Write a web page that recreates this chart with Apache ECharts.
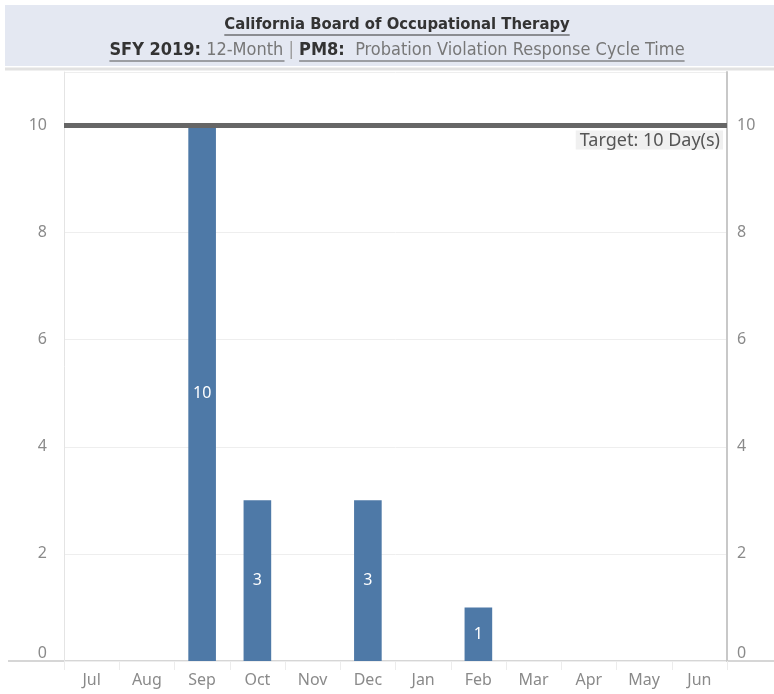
<!DOCTYPE html>
<html>
<head>
<meta charset="utf-8">
<script src="https://cdn.jsdelivr.net/npm/echarts@6/dist/echarts.min.js"></script>
<style>
  html, body { margin: 0; padding: 0; background: #fff; }
  #main { width: 774px; height: 694px; }
</style>
</head>
<body>
<div id="main"></div>
<script>
// data
var months = ['Jul', 'Aug', 'Sep', 'Oct', 'Nov', 'Dec', 'Jan', 'Feb', 'Mar', 'Apr', 'May', 'Jun'];
var cycleDays = [null, null, 10, 3, null, 3, null, 1, null, null, null, null];
var targetDays = 10;
var yMax = 11;
var yStep = 2;

var titleText = 'California Board of Occupational Therapy';
var subParts = [
  ['b', 'SFY 2019:'], ['g', ' 12-Month '], ['s', '| '], ['b', 'PM8:'], ['g', '  Probation Violation Response Cycle Time']
];

var titleFont = '"Liberation Sans Narrow", "DejaVu Sans Condensed", sans-serif';
var axisFont = '"Noto Sans", sans-serif';
var centerX = 397;

// measure text so the underlines fit the words
var ctx = document.createElement('canvas').getContext('2d');
function textW(txt, weight, size) {
  ctx.font = weight + ' ' + size + 'px ' + titleFont;
  return ctx.measureText(txt).width;
}
var titleSize = 16.5, subSize = 18;
var titleW = textW(titleText, 'bold', titleSize);
var subWidths = subParts.map(function (p) { return textW(p[1], p[0] === 'b' ? 'bold' : 'normal', subSize); });
var subTotal = subWidths.reduce(function (a, b) { return a + b; }, 0);
var subX0 = centerX - subTotal / 2;
var u1End = subX0 + subWidths[0] + subWidths[1] - 4;
var u2Start = subX0 + subWidths[0] + subWidths[1] + subWidths[2];
var u2End = subX0 + subTotal;

var myChart = echarts.init(document.getElementById('main'));

function yLabel(v) { return v % yStep === 0 ? String(v) : ''; }

var option = {
  animation: false,
  grid: { left: 64, right: 47, top: 72, bottom: 33 },
  graphic: [
    { type: 'rect', shape: { x: 5, y: 5, width: 769, height: 61 }, style: { fill: '#e4e8f2' } },
    { type: 'line', shape: { x1: 5, y1: 69, x2: 774, y2: 69 }, style: { stroke: '#e2e2e2', lineWidth: 3 } },
    {
      type: 'text', x: centerX, y: 25,
      style: {
        text: titleText, align: 'center', verticalAlign: 'middle',
        fontFamily: titleFont, fontSize: titleSize, fontWeight: 'bold', fill: '#333'
      }
    },
    { type: 'line', shape: { x1: centerX - titleW / 2, y1: 35, x2: centerX + titleW / 2, y2: 35 }, style: { stroke: '#333', lineWidth: 1 } },
    {
      type: 'text', x: subX0, y: 50,
      style: {
        text: subParts.map(function (p) { return '{' + p[0] + '|' + p[1] + '}'; }).join(''),
        align: 'left', verticalAlign: 'middle',
        fontFamily: titleFont, fontSize: subSize,
        rich: {
          b: { fontFamily: titleFont, fontSize: subSize, fontWeight: 'bold', fill: '#333', color: '#333' },
          g: { fontFamily: titleFont, fontSize: subSize, fill: '#777', color: '#777' },
          s: { fontFamily: titleFont, fontSize: subSize, fill: '#999', color: '#999' }
        }
      }
    },
    { type: 'line', shape: { x1: subX0, y1: 61, x2: u1End, y2: 61 }, style: { stroke: '#555', lineWidth: 1 } },
    { type: 'line', shape: { x1: u2Start, y1: 61, x2: u2End, y2: 61 }, style: { stroke: '#555', lineWidth: 1 } },
    { type: 'line', shape: { x1: 8, y1: 661, x2: 774, y2: 661 }, style: { stroke: '#d6d6d6', lineWidth: 2 } }
  ],
  xAxis: {
    type: 'category',
    data: months,
    axisLine: { show: false },
    axisTick: { show: true, length: 9, lineStyle: { color: '#ececec' } },
    axisLabel: { color: '#8a8a8a', fontFamily: axisFont, fontSize: 16, margin: 11 }
  },
  yAxis: [
    {
      type: 'value', min: 0, max: yMax, interval: yStep, position: 'left',
      axisLine: { show: true, lineStyle: { color: '#e4e4e4', width: 1 } },
      axisTick: { show: false },
      splitLine: { lineStyle: { color: '#eeeeee' } },
      axisLabel: {
        color: '#8a8a8a', fontFamily: axisFont, fontSize: 16, margin: 17,
        formatter: yLabel, showMaxLabel: false, verticalAlignMinLabel: 'bottom'
      }
    },
    {
      type: 'value', min: 0, max: yMax, interval: yStep, position: 'right',
      axisLine: { show: true, lineStyle: { color: '#c8c8c8', width: 2 } },
      axisTick: { show: false },
      splitLine: { show: false },
      axisLabel: {
        color: '#8a8a8a', fontFamily: axisFont, fontSize: 16, margin: 10,
        formatter: yLabel, showMaxLabel: false, verticalAlignMinLabel: 'bottom'
      }
    }
  ],
  series: [
    {
      type: 'bar',
      data: cycleDays,
      barWidth: '50%',
      itemStyle: { color: '#4e79a7' },
      label: {
        show: true, position: 'inside', color: '#fff', fontFamily: axisFont, fontSize: 16
      },
      markLine: {
        silent: true,
        symbol: 'none',
        lineStyle: { color: '#666', width: 5, type: 'solid' },
        label: {
          position: 'insideEndBottom',
          formatter: 'Target: ' + targetDays + ' Day(s)',
          color: '#555', fontFamily: axisFont, fontSize: 18,
          backgroundColor: '#f0f0f0', padding: [1, 3, 0, 4], distance: [4, 5]
        },
        data: [{ yAxis: targetDays }]
      }
    }
  ]
};
myChart.setOption(option);
</script>
</body>
</html>
